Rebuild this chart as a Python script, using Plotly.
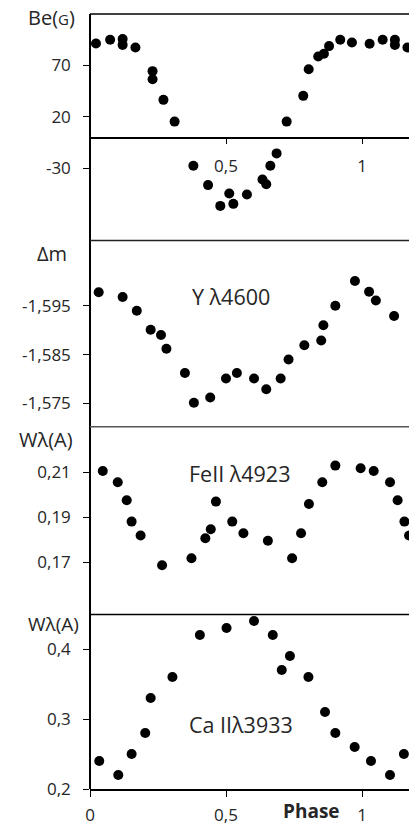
import plotly.graph_objects as go

# ---- Longitudinal magnetic field Be (G) versus rotational phase ----
phase_be = [0.022, 0.074, 0.120, 0.120, 0.167, 0.230, 0.230, 0.270, 0.311, 0.380,
            0.434, 0.479, 0.512, 0.527, 0.577, 0.634, 0.648, 0.663, 0.686, 0.723,
            0.784, 0.804, 0.839, 0.860, 0.879, 0.920, 0.963, 1.028, 1.076, 1.121,
            1.121, 1.167]
be_gauss = [91.4, 95.0, 95.6, 90.0, 87.5, 64.5, 56.7, 36.6, 15.5, -27.4,
            -46.2, -66.4, -54.4, -64.4, -55.3, -40.7, -45.3, -27.4, -15.4, 15.5,
            40.5, 66.4, 78.8, 81.4, 88.8, 95.0, 92.4, 91.1, 95.0, 95.0,
            90.0, 87.5]

# ---- Differential magnitude in the Y 4600 band ----
phase_dm = [0.032, 0.120, 0.172, 0.223, 0.261, 0.281, 0.349, 0.382, 0.442, 0.500,
            0.540, 0.603, 0.648, 0.701, 0.730, 0.788, 0.850, 0.858, 0.902, 0.974,
            1.026, 1.051, 1.118]
delta_m = [-1.5978, -1.5968, -1.5940, -1.5901, -1.5890, -1.5862, -1.5812, -1.5751,
           -1.5762, -1.5801, -1.5812, -1.5801, -1.5779, -1.5801, -1.5840, -1.5869,
           -1.5879, -1.5910, -1.5950, -1.6001, -1.5979, -1.5961, -1.5929]

# ---- Equivalent width of Fe II 4923 (A) ----
phase_fe = [0.047, 0.102, 0.135, 0.153, 0.186, 0.265, 0.373, 0.424, 0.444, 0.463,
            0.523, 0.564, 0.654, 0.743, 0.776, 0.805, 0.854, 0.902, 0.995, 1.043,
            1.103, 1.131, 1.156, 1.173]
w_fe = [0.2106, 0.2056, 0.1976, 0.1881, 0.1819, 0.1687, 0.1718, 0.1807, 0.1847, 0.1970,
        0.1881, 0.1829, 0.1796, 0.1718, 0.1829, 0.1959, 0.2056, 0.2130, 0.2118, 0.2106,
        0.2056, 0.1976, 0.1881, 0.1819]

# ---- Equivalent width of Ca II 3933 (A) ----
phase_ca = [0.034, 0.104, 0.153, 0.203, 0.223, 0.303, 0.404, 0.502, 0.603, 0.672,
            0.735, 0.705, 0.803, 0.864, 0.902, 0.973, 1.033, 1.103, 1.154]
w_ca = [0.24, 0.22, 0.25, 0.28, 0.33, 0.36, 0.42, 0.43, 0.44, 0.42,
        0.39, 0.37, 0.36, 0.31, 0.28, 0.26, 0.24, 0.22, 0.25]

# ---- Tick labels (decimal comma) ----
be_ticks = [-30, 20, 70]
be_ticktext = ["-30", "20", "70"]
dm_ticks = [-1.595, -1.585, -1.575]
dm_ticktext = ["-1,595", "-1,585", "-1,575"]
fe_ticks = [0.17, 0.19, 0.21]
fe_ticktext = ["0,17", "0,19", "0,21"]
ca_ticks = [0.2, 0.3, 0.4]
ca_ticktext = ["0,2", "0,3", "0,4"]
phase_ticks = [0, 0.5, 1]
phase_ticktext = ["0", "0,5", "1"]

# ---- Page geometry ----
W, H = 409, 827
M_L, M_R, M_T, M_B = 90, 0, 14, 38
X_RANGE = [0, (W - M_L) / 272.0]

# panel borders in pixels from the top of the page
borders = [14, 240.5, 426.7, 614.5, 789]
plot_h = borders[-1] - borders[0]


def frac(py):
    return (borders[-1] - py) / plot_h


doms = [[frac(borders[i + 1]), frac(borders[i])] for i in range(4)]

BE_RANGE = [-100, 120]
DM_RANGE = [-1.5702, -1.6084]   # reversed: brighter upwards
FE_RANGE = [0.1468, 0.2303]
CA_RANGE = [0.2, 0.4493]

zero_pos = doms[0][0] + (0 - BE_RANGE[0]) / (BE_RANGE[1] - BE_RANGE[0]) * (doms[0][1] - doms[0][0])

FONT = "Open Sans"
TXT = "#262626"
TICK_SIZE = 17
marker = dict(color="black", size=10, line=dict(width=0))

fig = go.Figure()
series = [(phase_be, be_gauss), (phase_dm, delta_m), (phase_fe, w_fe), (phase_ca, w_ca)]
for i, (xs, ys) in enumerate(series):
    sfx = "" if i == 0 else str(i + 1)
    fig.add_trace(go.Scatter(x=xs, y=ys, mode="markers", marker=marker,
                             xaxis="x" + sfx, yaxis="y" + sfx, showlegend=False,
                             cliponaxis=True))

yaxis_common = dict(showline=True, linecolor="black", linewidth=1.5,
                    ticks="outside", ticklen=6, tickwidth=1.2, tickcolor="black",
                    showgrid=False, zeroline=False, anchor="free", position=0,
                    tickfont=dict(family=FONT, size=TICK_SIZE, color=TXT),
                    ticklabelstandoff=9, automargin=False)

hidden_x = dict(range=X_RANGE, visible=False, showgrid=False, zeroline=False,
                automargin=False)

fig.update_layout(
    width=W, height=H, autosize=False,
    margin=dict(l=M_L, r=M_R, t=M_T, b=M_B, pad=0, autoexpand=False),
    paper_bgcolor="white", plot_bgcolor="white",
    separators=", ",
    font=dict(family=FONT, color=TXT),
    xaxis=dict(range=X_RANGE, domain=[0, 1], anchor="free", position=zero_pos,
               showline=True, linecolor="black", linewidth=1.5,
               ticks="outside", ticklen=6, tickwidth=1.2, tickcolor="black",
               tickvals=[0.5, 1], ticktext=["0,5", "1"],
               tickfont=dict(family=FONT, size=TICK_SIZE, color=TXT),
               ticklabelstandoff=7, showgrid=False, zeroline=False,
               automargin=False),
    yaxis=dict(domain=doms[0], range=BE_RANGE, tickvals=be_ticks,
               ticktext=be_ticktext, **yaxis_common),
    xaxis2=dict(anchor="y2", **hidden_x),
    yaxis2=dict(domain=doms[1], range=DM_RANGE, tickvals=dm_ticks,
                ticktext=dm_ticktext, **yaxis_common),
    xaxis3=dict(anchor="y3", **hidden_x),
    yaxis3=dict(domain=doms[2], range=FE_RANGE, tickvals=fe_ticks,
                ticktext=fe_ticktext, **yaxis_common),
    xaxis4=dict(range=X_RANGE, anchor="y4", showline=True, linecolor="black",
                linewidth=1.5, ticks="outside", ticklen=6, tickwidth=1.2,
                tickcolor="black", tickvals=phase_ticks, ticktext=phase_ticktext,
                tickfont=dict(family=FONT, size=TICK_SIZE, color=TXT),
                ticklabelstandoff=4, showgrid=False, zeroline=False,
                automargin=False),
    yaxis4=dict(domain=doms[3], range=CA_RANGE, tickvals=ca_ticks,
                ticktext=ca_ticktext, **yaxis_common),
)

# horizontal frame line on top of each panel
top_colors = ["black", "#222222", "#555555", "black"]
for d, c in zip(doms, top_colors):
    fig.add_shape(type="line", xref="paper", yref="paper", x0=0, x1=1,
                  y0=d[1], y1=d[1], line=dict(color=c, width=1.5), layer="above")

# axis titles at the top-left of each panel
titles = [("Be(<span style='font-size:15px'>G</span>)", -39, -3, 20),
          ("\u0394m", -38, -13, 20),
          ("W\u03bb(A)", -44, -13, 20),
          ("W\u03bb(A)", -37, -9.5, 19)]
for i, (txt, dx, dy, fs) in enumerate(titles):
    fig.add_annotation(text=txt, xref="paper", yref="paper", x=0, y=doms[i][1],
                       xanchor="center", yanchor="middle", xshift=dx, yshift=dy,
                       showarrow=False, font=dict(family=FONT, size=fs, color=TXT))

# spectral feature labels
labels = [("Y \u03bb4600", 1, 231, 296),
          ("FeII \u03bb4923", 2, 239, 473),
          ("Ca II\u03bb3933", 3, 241, 724)]
for txt, i, px, py in labels:
    fig.add_annotation(text=txt, xref="paper", yref="paper",
                       x=(px - M_L) / (W - M_L - M_R), y=frac(py),
                       xanchor="center", yanchor="middle", showarrow=False,
                       font=dict(family=FONT, size=21.5, color=TXT))

fig.add_annotation(text="<b>Phase</b>", xref="paper", yref="paper",
                   x=(311 - M_L) / (W - M_L - M_R), y=frac(811),
                   xanchor="center", yanchor="middle", showarrow=False,
                   font=dict(family=FONT, size=19, color=TXT))

fig.write_html("out.html")
